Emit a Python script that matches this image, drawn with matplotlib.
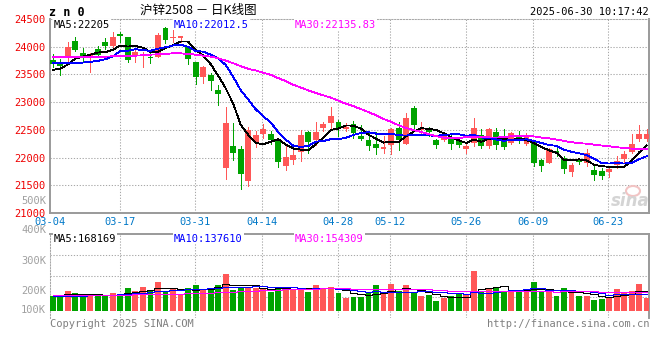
import numpy as np
import pandas as pd
import matplotlib
matplotlib.use('Agg')
import matplotlib.pyplot as plt
from matplotlib.patches import Ellipse

plt.rcParams['font.family'] = ['DejaVu Sans Mono', 'Noto Sans CJK SC']

# daily candles 2025-03-04 .. 2025-06-30
opens = [23762, 23720, 23798, 24107, 23887, 23810, 23958, 24089, 24018, 24238,
         24167, 23839, 23833, 23798, 23810, 24330, 24155, 24155, 24000, 23732,
         23452, 23482, 23214, 21816, 22203, 22161, 21578, 22274, 22429, 22429,
         22322, 21846, 21953, 22096, 22459, 22322, 22542, 22631, 22643, 22518,
         22601, 22393, 22310, 22250, 22155, 22221, 22542, 22250, 22887, 22494,
         22500, 22310, 22317, 22371, 22317, 22162, 22270, 22401, 22210, 22461,
         22341, 22270, 22401, 22240, 22282, 21958, 21898, 22120, 22000, 21742,
         21970, 21910, 21772, 21760, 21742, 21868, 21970, 22102, 22341, 22329]
highs = [23869, 23780, 24077, 24167, 23976, 23881, 24018, 24155, 24268, 24268,
         24167, 23958, 23899, 23940, 24256, 24360, 24330, 24196, 24018, 23732,
         23661, 23524, 23304, 22905, 22631, 22215, 22560, 22482, 22607, 22471,
         22352, 22203, 22143, 22489, 22471, 22649, 22649, 22905, 22679, 22619,
         22661, 22590, 22459, 22453, 22381, 22530, 22649, 22798, 22929, 22649,
         22560, 22341, 22449, 22401, 22377, 22270, 22707, 22509, 22539, 22539,
         22521, 22461, 22479, 22437, 22300, 21970, 22180, 22180, 22030, 21910,
         22000, 22150, 21850, 21820, 21850, 22030, 22120, 22419, 22581, 22509]
lows = [23643, 23494, 23720, 23917, 23732, 23542, 23821, 23958, 23988, 24077,
        23720, 23720, 23631, 23702, 23810, 24060, 24077, 24077, 23690, 23333,
        23345, 23214, 22947, 21607, 21965, 21441, 21489, 22185, 22352, 22251,
        21828, 21775, 21876, 21935, 22084, 22233, 22471, 22542, 22381, 22471,
        22352, 22322, 22143, 22060, 22084, 22072, 22131, 22250, 22530, 22411,
        22393, 22180, 22300, 22150, 22198, 22090, 22210, 22180, 22180, 22162,
        22150, 22252, 22270, 22222, 21850, 21760, 21898, 22030, 21718, 21659,
        21880, 21850, 21599, 21611, 21641, 21820, 21910, 22090, 22300, 22300]
closes = [23690, 23649, 24000, 23946, 23810, 23869, 23857, 24018, 24167, 24202,
          23768, 23911, 23857, 23792, 24214, 24119, 24167, 24185, 23780, 23452,
          23631, 23381, 23155, 22631, 22084, 21697, 22489, 22411, 22518, 22322,
          21917, 22006, 22054, 22411, 22274, 22465, 22607, 22750, 22518, 22560,
          22441, 22340, 22203, 22167, 22197, 22518, 22322, 22715, 22590, 22506,
          22453, 22225, 22419, 22240, 22222, 22210, 22539, 22210, 22521, 22222,
          22198, 22437, 22341, 22401, 21910, 21850, 22162, 22090, 21802, 21862,
          21922, 22078, 21689, 21671, 21802, 21940, 22060, 22252, 22419, 22419]
volumes = [125000, 125000, 166000, 149000, 141000, 127000, 127000, 127000, 149000, 141000,
           194000, 166000, 199000, 174000, 241000, 155000, 183000, 141000, 194000, 216000,
           174000, 191000, 216000, 307000, 174000, 188000, 202000, 194000, 188000, 160000,
           199000, 199000, 183000, 194000, 160000, 216000, 183000, 199000, 149000, 111000,
           116000, 116000, 155000, 216000, 138000, 224000, 166000, 216000, 160000, 125000,
           133000, 83000, 111000, 125000, 138000, 138000, 332000, 166000, 183000, 188000,
           166000, 166000, 160000, 174000, 241000, 160000, 166000, 125000, 194000, 160000,
           127000, 125000, 91000, 100000, 119000, 183000, 155000, 166000, 224000, 111000]

# MA values for the first bars (window reaches before 03-04)
ma5_head = [23583, 23601, 23679, 23786]
ma10_head = [23708, 23708, 23702, 23705, 23714, 23726, 23745, 23775, 23825]
ma30_head = [23821, 23815, 23810, 23810, 23810, 23810, 23815, 23821, 23827, 23827,
             23833, 23839, 23845, 23857, 23863, 23869, 23881, 23881, 23869, 23857,
             23839, 23821, 23792, 23750, 23702, 23649, 23601, 23572, 23530]
vma5_head = [133000, 133000, 138000, 138000]
vma10_head = [125000, 125000, 126000, 127000, 128000, 129000, 130000, 132000, 134000]
vma30_head = [132000, 132000, 133000, 133000, 133000, 134000, 134000, 134000, 135000, 135000,
              136000, 137000, 138000, 139000, 141000, 142000, 143000, 144000, 146000, 148000,
              150000, 152000, 154000, 157000, 160000, 163000, 166000, 169000, 171000]

date_labels = ['03-04', '03-17', '03-31', '04-14', '04-28', '05-12', '05-26', '06-09', '06-23']
date_idx = [0, 9, 19, 28, 38, 45, 55, 64, 74]
price_ticks = [21000, 21500, 22000, 22500, 23000, 23500, 24000, 24500]
vol_labels = ['500K', '400K', '300K', '200K', '100K']


def moving_avg(values, n, head):
    s = pd.Series(values, dtype=float).rolling(n).mean()
    s.iloc[:n - 1] = head
    return s.values


W, H = 660, 360
fig = plt.figure(figsize=(W / 100, H / 100), dpi=100)


def axes_px(left, top, right, bottom):
    return fig.add_axes([left / W, 1 - bottom / H, (right - left) / W, (bottom - top) / H])


def fxy(x, y):
    return x / W, 1 - y / H


x = np.arange(len(closes))
o = np.array(opens)
c = np.array(closes)
RED, GREEN = '#ff5757', '#00a300'
cols = np.where(c >= o, RED, GREEN)
grid_kw = dict(color='#a8a8a8', lw=0.75, ls=(0, (1.2, 1.6)))
BORDER = '#9a9a9a'
XLIM = (-0.36, 79.3)
grid_pos = [XLIM[0]] + [d - 0.1 for d in date_idx[1:]]

# ---- price panel
ax = axes_px(50, 19, 649, 213)
ax.set_xlim(*XLIM)
ax.set_ylim(21000, 24500)
for p in price_ticks[1:-1]:
    ax.axhline(p, zorder=0, **grid_kw)
for g in grid_pos[1:]:
    ax.axvline(g, zorder=0, **grid_kw)

ax.vlines(x, lows, highs, colors=cols, lw=0.6, zorder=2, antialiased=False)
body_h = np.maximum(np.abs(c - o), 20)
ax.bar(x, body_h, bottom=np.minimum(o, c), width=0.78, color=cols, lw=0, zorder=3)
ma_kw = dict(lw=0.6, zorder=4, antialiased=False)
ax.plot(x, moving_avg(closes, 5, ma5_head), color='black', **ma_kw)
ax.plot(x, moving_avg(closes, 10, ma10_head), color='#0000ff', **ma_kw)
ax.plot(x, moving_avg(closes, 30, ma30_head), color='#ff00ff', **ma_kw)

for s in ['left', 'right', 'bottom']:
    ax.spines[s].set_color(BORDER)
    ax.spines[s].set_linewidth(1.4)
ax.spines['top'].set(color='#a8a8a8', linewidth=0.75, linestyle=(0, (1.2, 1.6)))
ax.set_yticks(price_ticks, labels=[str(p) for p in price_ticks])
ax.set_xticks(grid_pos, labels=date_labels)
ax.tick_params(axis='y', length=0, pad=3, labelcolor='#ee0000', labelsize=7.5)
ax.tick_params(axis='x', length=0, pad=3, labelcolor='#0078c8', labelsize=7.5)

# sina watermark
fig.add_artist(Ellipse(fxy(633, 191), 14 / W, 10 / H, fc='none', ec='#f2c4c4', lw=1.5))
fig.text(*fxy(650, 201), 'sina', ha='right', va='center', color='#d4d4d4',
         fontsize=12, fontweight='bold', fontstyle='italic', family='DejaVu Sans')

# ---- volume panel
axv = axes_px(50, 234, 649, 318)
axv.set_xlim(*XLIM)
vlo, vhi = -58100, 639100
axv.set_ylim(vlo, vhi)
for f in [0.25, 0.5, 0.75]:
    axv.axhline(vlo + f * (vhi - vlo), zorder=0, **grid_kw)
for g in grid_pos[1:]:
    axv.axvline(g, zorder=0, **grid_kw)
axv.bar(x, volumes, width=0.78, color=cols, lw=0, zorder=3)
vma_kw = dict(lw=0.6, drawstyle='steps-mid', zorder=4, antialiased=False)
axv.plot(x, moving_avg(volumes, 5, vma5_head), color='black', **vma_kw)
axv.plot(x, moving_avg(volumes, 10, vma10_head), color='#0000ff', **vma_kw)
axv.plot(x, moving_avg(volumes, 30, vma30_head), color='#ff00ff', **vma_kw)
axv.set_xticks([])
axv.set_yticks([])
axv.spines['top'].set(color=BORDER, linewidth=1.4)
axv.spines['right'].set(color=BORDER, linewidth=1.4)
axv.spines['left'].set(color='#a8a8a8', linewidth=0.75, linestyle=(0, (1.2, 1.6)))
axv.spines['bottom'].set_visible(False)

for lab, y in zip(vol_labels, [200.5, 230.5, 260.5, 290.5, 310]):
    fig.text(*fxy(46, y), lab, ha='right', va='center', color='#a0a0a0', fontsize=7.5)

# ---- texts
box = dict(fc='white', ec='none', pad=0.6)
for txt, xp, col in [('MA5:22205', 54, 'black'), ('MA10:22012.5', 174, '#0000ff'),
                     ('MA30:22135.83', 295, '#ff00ff')]:
    fig.text(*fxy(xp, 24.5), txt, color=col, fontsize=7.5, va='center', bbox=box)
for txt, xp, col in [('MA5:168169', 54, 'black'), ('MA10:137610', 174, '#0000ff'),
                     ('MA30:154309', 295, '#ff00ff')]:
    fig.text(*fxy(xp, 238.5), txt, color=col, fontsize=7.5, va='center', bbox=box)

fig.text(*fxy(49, 12), 'z n 0', fontsize=8.5, fontweight='bold', va='center')
fig.text(*fxy(140, 10), '沪锌2508 － 日K线图', fontsize=9, va='center',
         family=['Noto Sans CJK SC', 'DejaVu Sans'])
fig.text(*fxy(649, 12), '2025-06-30 10:17:42', ha='right', va='center', fontsize=7.5)
fig.text(*fxy(50, 324), 'Copyright 2025 SINA.COM', color='#808080', fontsize=7.5, va='center')
fig.text(*fxy(649, 324), 'http://finance.sina.com.cn', color='#808080', fontsize=7.5,
         va='center', ha='right')

fig.savefig('out.png', dpi=100)
plt.close(fig)
